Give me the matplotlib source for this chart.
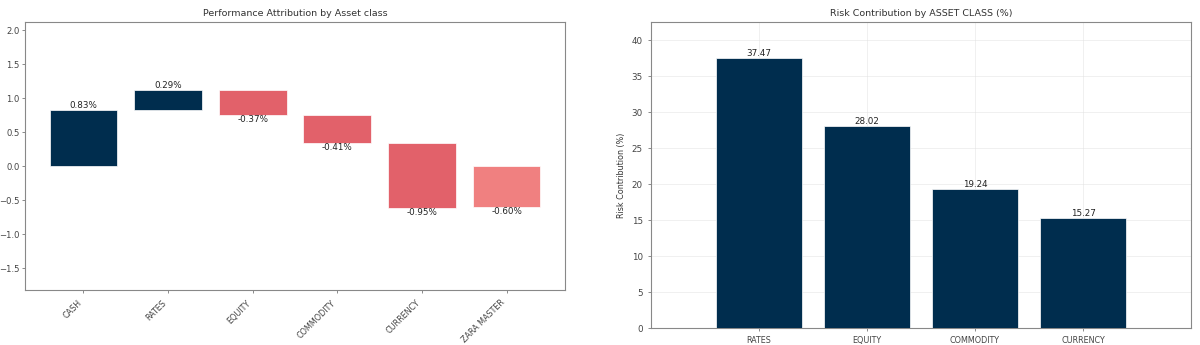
import matplotlib
matplotlib.use("Agg")
import matplotlib.pyplot as plt
import numpy as np

# Performance attribution (waterfall)
perf_categories = ["CASH", "RATES", "EQUITY", "COMMODITY", "CURRENCY", "ZARA MASTER"]
perf_values = [0.83, 0.29, -0.37, -0.41, -0.95, -0.60]

# Risk contribution
risk_categories = ["RATES", "EQUITY", "COMMODITY", "CURRENCY"]
risk_values = [37.47, 28.02, 19.24, 15.27]

NAVY = "#002d4e"
RED = "#e2616a"
TOTAL = "#f08080"
FS = 6.3

fig = plt.figure(figsize=(12, 3.45), dpi=100)
ax1 = fig.add_axes([25/1200, 1-290/345, 540/1200, 268/345])
ax2 = fig.add_axes([651/1200, 1-328/345, 540/1200, 306/345])

# Waterfall
n = len(perf_values)
bottoms, heights, colors = [], [], []
cum = 0.0
for i, v in enumerate(perf_values):
    if i == n - 1:
        bottoms.append(0.0)
        heights.append(v)
        colors.append(TOTAL)
    else:
        bottoms.append(cum)
        heights.append(v)
        colors.append(NAVY if v >= 0 else RED)
        cum += v
x = np.arange(n)
ax1.bar(x, heights, bottom=bottoms, color=colors, width=0.8, edgecolor="white", linewidth=0.5)
for xi, b, h, v in zip(x, bottoms, heights, perf_values):
    if v >= 0:
        ax1.text(xi, b + h, f"{v:.2f}%", ha="center", va="bottom", fontsize=FS, color="#222222")
    else:
        ax1.text(xi, b + h, f"{v:.2f}%", ha="center", va="top", fontsize=FS, color="#222222")
ax1.set_xticks(x)
ax1.set_xticklabels(perf_categories, rotation=45, ha="right", fontsize=FS - 0.5, color="#444444")
ax1.set_ylim(-1.82, 2.12)
ax1.set_yticks([-1.5, -1.0, -0.5, 0.0, 0.5, 1.0, 1.5, 2.0])
ax1.tick_params(axis="y", labelsize=FS - 0.2, colors="#444444", pad=1.5)
ax1.tick_params(axis="both", length=2.5, width=0.6, color="#777777")
ax1.set_title("Performance Attribution by Asset class", fontsize=FS + 0.5, color="#333333", pad=4)
for s in ax1.spines.values():
    s.set_color("#888888")
    s.set_linewidth(0.8)

# Risk contribution
xr = np.arange(len(risk_values))
ax2.bar(xr, risk_values, color=NAVY, width=0.8, edgecolor="white", linewidth=0.5, zorder=3)
for xi, v in zip(xr, risk_values):
    ax2.text(xi, v, f"{v:.2f}", ha="center", va="bottom", fontsize=FS, color="#222222", zorder=4)
ax2.set_xticks(xr)
ax2.set_xticklabels(risk_categories, fontsize=FS - 0.5, color="#444444")
ax2.set_xlim(-1, 4)
ax2.set_ylim(0, 42.5)
ax2.set_yticks(np.arange(0, 41, 5))
ax2.tick_params(axis="y", labelsize=FS, colors="#444444")
ax2.tick_params(axis="both", length=2.5, width=0.6, color="#777777")
ax2.grid(True, color="#dddddd", linewidth=0.5, alpha=0.6, zorder=0)
ax2.set_axisbelow(True)
ax2.set_ylabel("Risk Contribution (%)", fontsize=FS - 0.5, color="#333333", labelpad=4)
ax2.set_title("Risk Contribution by ASSET CLASS (%)", fontsize=FS + 0.5, color="#333333", pad=4)
for s in ax2.spines.values():
    s.set_color("#888888")
    s.set_linewidth(0.8)

fig.savefig("out.png", dpi=100, facecolor="white")
